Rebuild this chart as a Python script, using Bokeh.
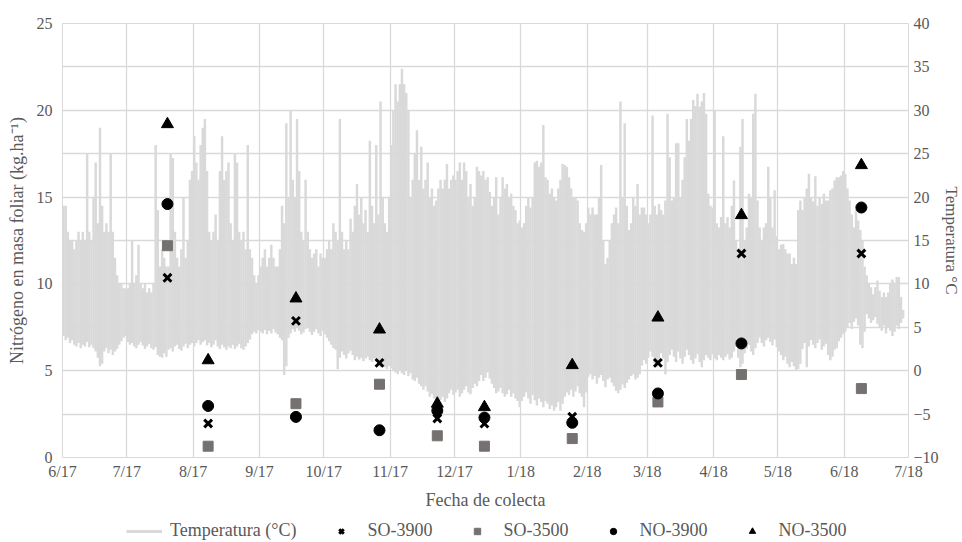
import pandas as pd
from bokeh.plotting import figure
from bokeh.layouts import column
from bokeh.models import Range1d, LinearAxis, FixedTicker, Legend, LegendItem
from bokeh.embed import file_html
from bokeh.resources import INLINE

# ---------------- data ----------------
# collection dates and foliar nitrogen (kg/ha)
sample_dates = ["2017-07-20", "2017-08-08", "2017-09-18", "2017-10-27", "2017-11-23",
                "2017-12-15", "2018-01-25", "2018-03-06", "2018-04-14", "2018-06-09"]
so_3900 = [10.35, 1.96, 7.87, 5.45, 2.25, 1.95, 2.35, 5.45, 11.75, 11.75]
so_3500 = [12.2, 0.65, 3.1, 4.22, 1.25, 0.65, 1.09, 3.2, 4.78, 3.97]
no_3900 = [14.6, 2.97, 2.34, 1.57, 2.7, 2.3, 2.0, 3.69, 6.57, 14.4]
no_3500 = [19.2, 5.6, 9.16, 7.37, 3.1, 2.9, 5.32, 8.06, 13.96, 16.84]

# daily temperature envelope (deg C), from 2017-06-01
temp_start = "2017-06-01"
tmax = [
    # Jun 2017
    19, 19, 16, 15, 15, 14, 15, 16, 15, 16, 15, 25, 16, 15, 20, 24, 17, 28, 19, 16,
    17, 16, 25, 16, 13, 11, 10, 10, 9.5, 9.5,
    # Jul
    9.5, 10, 15, 10, 11, 14.5, 10, 9.5, 10, 9, 9.5, 9, 10, 26, 18.5, 12, 14, 13, 12, 12,
    25, 24.5, 16, 13, 12, 14, 20, 13, 15, 22, 23,
    # Aug
    27, 24, 22, 26, 28, 29, 23, 16, 15, 16, 18, 15, 23, 27, 22, 23, 24, 17, 15, 25,
    24, 16, 15, 16, 14, 26, 14, 13, 11, 10, 11,
    # Sep
    12, 13, 14, 12, 13, 14.5, 13, 12, 12, 14, 19, 17, 28.5, 20, 30, 22, 20, 29, 23, 16,
    15, 22, 16, 14, 13, 13.5, 14, 12, 13.5, 13,
    # Oct
    13, 14, 15, 14, 17, 16, 15, 29, 16, 14, 15, 14, 17.5, 16, 19, 21.5, 18, 20, 17, 18.5,
    16, 26.5, 19, 17, 26, 18, 31, 20, 17, 16, 20,
    # Nov
    26, 30, 33, 31, 33, 34.8, 33, 32, 30, 20, 22, 25, 27.7, 22, 25.8, 21, 22, 24, 20, 21,
    19, 19.6, 21, 22, 21, 22, 23.8, 21, 22, 22.5,
    # Dec
    22, 23, 24, 22, 24, 23, 20, 21.5, 19, 20, 23.5, 23, 22.5, 23, 22, 22.3, 20.6, 19, 20, 22.3,
    18, 20, 22.3, 21, 21.5, 20, 20.4, 19, 18.5, 17, 17.3,
    # Jan 2018
    16.5, 17, 19, 20, 18.8, 20, 24, 24.2, 23.5, 24, 28.3, 22.3, 22, 20.4, 21, 20, 19.6, 21, 22, 23.8,
    23.7, 23.5, 22.3, 21, 20, 20, 19.6, 17, 16.2, 16, 17,
    # Feb
    18.8, 18, 18.8, 18, 18, 20, 23.7, 15, 12.3, 13, 15, 17, 18, 18.8, 17, 31, 20, 28.5, 19, 16.2,
    17, 20, 19, 21.5, 18, 18.8, 18.8, 18,
    # Mar
    17, 18, 29.4, 19, 18, 19.2, 18.5, 18, 19.6, 29.6, 24.6, 19.6, 20, 26.2, 26.2, 20, 22, 24.6, 29, 26.5,
    29, 31.2, 30.5, 31.9, 30.4, 31, 32, 29.6, 20.4, 19, 18.8,
    # Apr
    30, 17, 16.5, 17.7, 27, 17, 17.7, 16.5, 19, 21.9, 15, 14, 25.8, 29, 15, 16.5, 20.4, 20, 29.6, 31.9,
    19.6, 16.5, 15, 16.5, 17, 23.5, 20, 16.5, 20.8, 15.5,
    # May
    14, 14.5, 14.6, 14, 13.5, 13.5, 12.3, 13, 12.3, 18.5, 19.6, 18.5, 20, 21, 22.7, 20, 19.5, 22.4, 19, 20,
    19.2, 20.4, 19.6, 19.6, 20.8, 21, 21.9, 22.3, 22.3, 22.5, 23,
    # Jun 2018
    22.7, 21, 19.6, 18, 16.5, 18.5, 17.3, 16.2, 15, 12, 11, 10, 9.6, 8.8, 9.6, 10.4, 9.2, 8.5, 9, 8.5,
    9, 10, 10.5, 10, 10.8, 10.8, 8.5, 7,
]
tmin = [
    # Jun 2017
    4, 3.5, 3.8, 3.2, 3.5, 3, 2.8, 3.2, 2.6, 3, 2.8, 3.3, 2.7, 3, 2.6, 2.2, 1.5, 0.5, 0.8, 2.2,
    2.6, 2, 2.4, 1.8, 2.2, 2.5, 3, 3.4, 3.8, 4,
    # Jul
    3.3, 3, 3.2, 2.8, 2.6, 3, 3.3, 2.9, 2.5, 2.8, 3.1, 2.6, 2.4, 2.7, 1.8, 1.6, 1.5, 2, 1.6, 2.4,
    2.6, 2.2, 2.8, 3, 2.5, 2.3, 2.8, 3.1, 2.6, 3, 3.2,
    # Aug
    2.8, 3.2, 3.5, 3, 3.3, 3.5, 2.9, 3.2, 2.7, 3, 3.5, 2.8, 2.5, 3, 2.7, 2.4, 2.8, 2.6, 3, 2.5,
    2.8, 3.1, 2.6, 2.4, 2.8, 3.2, 3.6, 4.2, 4.5, 4.3, 4.7,
    # Sep
    4.5, 4.3, 4.7, 4.2, 4.6, 4.3, 4.8, 4.4, 4.2, 3.8, 3.5, -0.5, 0.5, 3.8, 4.3, 4.8, 4.5, 5, 4.6, 4.2,
    4.4, 4.8, 5, 4.5, 4.1, 4.5, 4.8, 4.3, 4, 4.6,
    # Oct
    4.2, 3.8, 3.4, 3, 2.6, 2.4, 0.2, 1.5, 2.2, 1.8, 1.4, 2, 2.3, 1.8, 1.2, 1.6, 1.3, 1.5, 1.1, 1.4,
    1.6, 1.2, 1, 1.4, 1.1, 0.8, 0.4, 0.6, 0.4, 0.2, 0.5,
    # Nov
    0.3, 0, -0.2, -0.4, 0, -0.3, -0.5, 0, -0.6, -0.3, -1, -1.2, -0.8, -1.5, -1.8, -2.2, -1.8, -2.4, -3, -2.7,
    -3.2, -3.5, -3.8, -3.4, -3, -3.6, -3.2, -2.6, -2.2, -2.8,
    # Dec
    -2.5, -2.2, -3, -2.6, -2.2, -1.8, -2.5, -2.7, -2, -1.5, -1.8, -1.2, -0.5, -1.2, -0.8, -0.2, -0.9, -1.5, -2, -2.6,
    -2.4, -2, -2.6, -3, -2.7, -2.2, -3, -2.6, -3.2, -3.5, -4.2,
    # Jan 2018
    -3.5, -3, -2.5, -3.2, -3.8, -2.8, -3.4, -4, -3.2, -3.6, -4.2, -3.5, -3.8, -4.4, -4, -4.6, -4.2, -3.6, -4.6, -3.8,
    -3, -2.5, -2.8, -2.2, -3, -2.4, -1.8, -2.6, -3, -4.2, -2.5,
    # Feb
    -0.7, -0.4, -1, -0.6, -1.5, -0.8, -0.5, -1.2, -1.9, -1, -0.8, -1.4, -1.8, -2.3, -2.6, -2.2, -1.6, -2, -1.4, -1,
    -0.6, -0.4, -1, -0.8, -0.4, 0.6, 1.2, 0.8,
    # Mar
    1.5, 2.2, 1.6, 0.8, 0.4, 1.2, 2, 1.4, -0.4, 1, 1.8, 2.4, 1.6, 1, 2.2, 1.4, 0.8, 1.6, 2.4, 1.8,
    1.2, 0.8, 1.4, 1.9, 1, 0.4, 1.2, 1.8, 1.5, 1.2, 1.9,
    # Apr
    1.4, 1.2, 1.8, 1.5, 1.2, 1.6, 1.9, 1.3, 1.5, 2.2, 2.8, 1.5, 0.4, 0.8, 2, 2.5, 3, 2.2, 1.8, 2.6,
    3.2, 3.8, 3.2, 2.8, 3.5, 3.8, 3.3, 2.9, 3.6, 2.7,
    # May
    2.2, 1.8, 1.2, 1.6, 0.8, 0.4, 1, 0.5, 0, 0.2, 0.8, 2.5, 3.2, 0.4, 2.8, 3.5, 3, 2.6, 3.2, 3.6,
    2.4, 2.8, 3.1, 1.8, 1.2, 1.6, 2.4, 2.6, 3.4, 3.8, 4.2,
    # Jun 2018
    4.5, 5, 5.5, 4.8, 5.6, 6, 5.2, 3, 2.6, 4.5, 6.5, 6, 5.5, 5.8, 6.2, 5.4, 5, 4.6, 5.2, 4.3,
    5, 4.6, 4, 4.5, 5.2, 4.8, 5.5, 6,
]

month_ticks = ["2017-06-01", "2017-07-01", "2017-08-01", "2017-09-01", "2017-10-01", "2017-11-01",
               "2017-12-01", "2018-01-01", "2018-02-01", "2018-03-01", "2018-04-01", "2018-05-01",
               "2018-06-01", "2018-07-01"]
month_labels = ["6/17", "7/17", "8/17", "9/17", "10/17", "11/17", "12/17", "1/18", "2/18",
                "3/18", "4/18", "5/18", "6/18", "7/18"]
n_ticks = [0, 5, 10, 15, 20, 25]
grid_ticks = [0, 2.5, 5, 7.5, 10, 12.5, 15, 17.5, 20, 22.5, 25]
t_ticks = [-10, -5, 0, 5, 10, 15, 20, 25, 30, 35, 40]
series_names = ["Temperatura (°C)", "SO-3900", "SO-3500", "NO-3900", "NO-3500"]

# ---------------- build ----------------
def ms(d):
    return pd.Timestamp(d).value / 1e6

tick_ms = [ms(d) for d in month_ticks]
sdates = pd.to_datetime(sample_dates)
temp_x = pd.date_range(pd.Timestamp(temp_start) + pd.Timedelta(hours=12), periods=len(tmax), freq="D")
DAY = 86400000

FONT = "Liberation Serif"
TXT = "#595959"
GRID = "#d9d9d9"
SQ = "#767171"

xr = Range1d(tick_ms[0], tick_ms[-1])

p = figure(frame_width=846, frame_height=434, x_axis_type="datetime", output_backend="svg",
           toolbar_location=None, x_range=xr, y_range=Range1d(0, 25),
           min_border_left=62, min_border_right=54, min_border_top=23, min_border_bottom=54)
p.extra_y_ranges = {"temp": Range1d(-10, 40)}
p.outline_line_color = GRID
p.background_fill_color = "white"
p.border_fill_color = "white"

# grid
p.xgrid.ticker = FixedTicker(ticks=tick_ms)
p.ygrid.ticker = FixedTicker(ticks=grid_ticks)
p.xgrid.grid_line_color = GRID
p.ygrid.grid_line_color = GRID
p.xgrid.grid_line_width = 1.3
p.ygrid.grid_line_width = 1.3

# temperature
p.vbar(x=temp_x, width=DAY * 1.15, top=tmax, bottom=tmin, y_range_name="temp",
       fill_color=GRID, line_color=None)

# nitrogen series
p.scatter(sdates, so_3900, marker="x", size=11, line_color="black", line_width=3)
p.scatter(sdates, so_3500, marker="square", size=10, fill_color=SQ, line_color=SQ)
p.scatter(sdates, no_3900, marker="circle", size=11, fill_color="black", line_color="black")
p.scatter(sdates, no_3500, marker="triangle", size=12, fill_color="black", line_color="black")

# axes
p.xaxis.ticker = FixedTicker(ticks=tick_ms)
p.xaxis.major_label_overrides = {t: lab for t, lab in zip(tick_ms, month_labels)}
p.xaxis.axis_label = "Fecha de colecta"
p.yaxis.ticker = FixedTicker(ticks=n_ticks)
p.yaxis.axis_label = "Nitrógeno en masa foliar (kg.ha⁻¹)"

rax = LinearAxis(y_range_name="temp", ticker=FixedTicker(ticks=t_ticks), axis_label="Temperatura °C")
try:
    rax.axis_label_orientation = "vertical"
except Exception:
    pass
p.add_layout(rax, "right")

for ax in [p.xaxis[0], p.yaxis[0], rax]:
    ax.axis_line_color = None
    ax.major_tick_line_color = None
    ax.minor_tick_line_color = None
    ax.major_tick_out = 0
    ax.major_tick_in = 0
    ax.minor_tick_out = 0
    ax.minor_tick_in = 0
    ax.major_label_text_font = FONT
    ax.major_label_text_font_size = "16px"
    ax.major_label_text_color = TXT
    ax.axis_label_text_font = FONT
    ax.axis_label_text_font_size = "18px"
    ax.axis_label_text_font_style = "normal"
    ax.axis_label_text_color = TXT

p.xaxis.major_label_standoff = 5
p.xaxis.axis_label_standoff = 7
p.yaxis[0].major_label_standoff = 10
p.yaxis[0].axis_label_standoff = 7
rax.major_label_standoff = 5
rax.axis_label_standoff = 0
rax.axis_label_text_font_size = "17px"

# ---- legend strip (separate figure placed right under the chart) ----
lg = figure(frame_width=846, frame_height=30, output_backend="svg", toolbar_location=None,
            x_range=xr, y_range=Range1d(100, 101),
            x_axis_location=None, y_axis_location=None,
            min_border_left=62, min_border_right=54, min_border_top=0, min_border_bottom=0)
lg.grid.visible = False
lg.outline_line_color = None
lg.background_fill_color = "white"
lg.border_fill_color = "white"
# same series, outside this strip's visible range: only their legend glyphs show
l0 = lg.line(temp_x, tmin, line_color=GRID, line_width=3)
l1 = lg.scatter(sdates, so_3900, marker="x", size=11, line_color="black", line_width=3)
l2 = lg.scatter(sdates, so_3500, marker="square", size=10, fill_color=SQ, line_color=SQ)
l3 = lg.scatter(sdates, no_3900, marker="circle", size=11, fill_color="black", line_color="black")
l4 = lg.scatter(sdates, no_3500, marker="triangle", size=12, fill_color="black", line_color="black")

legend = Legend(items=[LegendItem(label=n, renderers=[r]) for n, r in
                       zip(series_names, [l0, l1, l2, l3, l4])],
                orientation="horizontal", location=(64, 1))
legend.label_text_font = FONT
legend.label_text_font_size = "18px"
legend.label_text_color = TXT
legend.glyph_width = 36
legend.glyph_height = 16
legend.label_height = 16
legend.label_standoff = 8
legend.spacing = 27
legend.padding = 2
legend.margin = 0
legend.border_line_color = None
legend.background_fill_alpha = 0
lg.add_layout(legend)

layout = column(p, lg, spacing=0)
open("out.html", "w").write(file_html(layout, INLINE))
